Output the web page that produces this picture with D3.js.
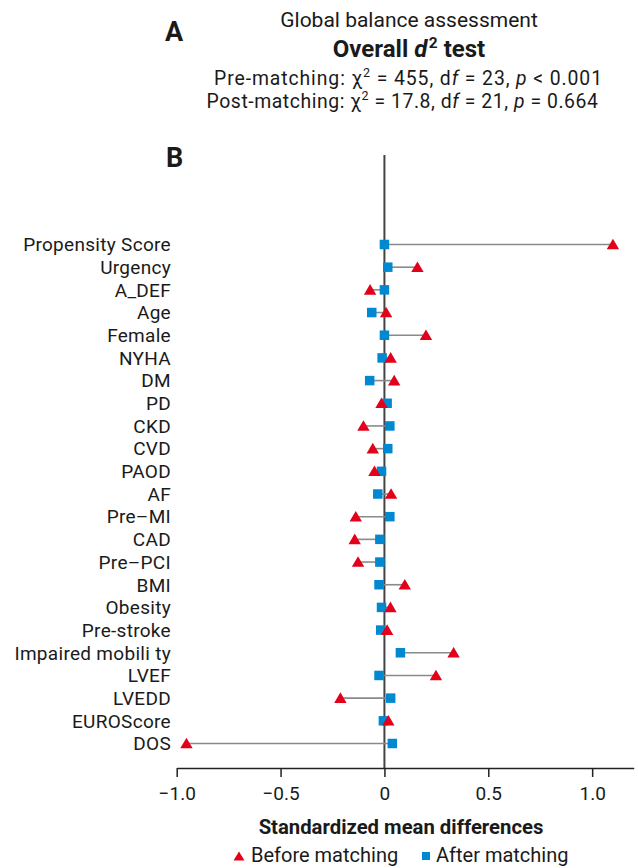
<!DOCTYPE html>
<html><head><meta charset="utf-8">
<script src="https://cdn.jsdelivr.net/npm/d3@7"></script>
<style>
body{margin:0;background:#fff}
svg{display:block}
text{font-family:Roboto,sans-serif;fill:#1a1a1a}
</style>
</head><body>
<svg id="chart" width="638" height="868"></svg>
<script>
const categories = ["Propensity Score","Urgency","A_DEF","Age","Female","NYHA","DM","PD","CKD","CVD","PAOD","AF","Pre\u2013MI","CAD","Pre\u2013PCI","BMI","Obesity","Pre-stroke","Impaired mobili ty","LVEF","LVEDD","EUROScore","DOS"];
const beforeMatching = [1.10,0.159,-0.069,0.008,0.20,0.03,0.047,-0.014,-0.101,-0.056,-0.048,0.032,-0.138,-0.143,-0.127,0.098,0.029,0.013,0.333,0.248,-0.212,0.019,-0.953];
const afterMatching  = [0.0,0.016,0.0,-0.061,0.0,-0.011,-0.071,0.013,0.026,0.016,-0.014,-0.032,0.026,-0.022,-0.022,-0.026,-0.014,-0.018,0.077,-0.026,0.030,-0.005,0.038];
const xTicks = [-1,-0.5,0,0.5,1];
const xTickLabels = ["\u22121.0","\u22120.5","0","0.5","1.0"];
const xDomain = [-1,1.2];
const legendLabels = ["Before matching","After matching"];

const RED = "#e3001b", BLUE = "#0088d1";
const svg = d3.select("#chart");

const x = d3.scaleLinear().domain(xDomain).range([176.7,633.7]);
const y = d3.scalePoint().domain(categories).range([244.5,743.5]);
const axisY = 768;

const rows = categories.map((c,i)=>({c, b:beforeMatching[i], a:afterMatching[i]}));

// header
svg.append("text").attr("x",165).attr("y",41).attr("font-size",27).attr("font-weight",700).text("A");
svg.append("text").attr("x",409).attr("y",27).attr("text-anchor","middle").attr("font-size",21).text("Global balance assessment");
const t2 = svg.append("text").attr("x",409).attr("y",57).attr("text-anchor","middle").attr("font-size",24).attr("font-weight",700);
t2.append("tspan").text("Overall ");
t2.append("tspan").attr("font-style","italic").text("d");
t2.append("tspan").attr("font-size",15.5).attr("dx",1.5).attr("dy",-9).text("2");
t2.append("tspan").attr("dy",9).text(" test");

function statLine(cx, yy, ls, prefix, chi, df, rel, p){
  const t = svg.append("text").attr("x",cx).attr("y",yy).attr("text-anchor","middle").attr("font-size",19.4)
    .attr("letter-spacing",ls);
  t.append("tspan").text(prefix+" \u03c7");
  t.append("tspan").attr("font-size",12.5).attr("dy",-8).text("2");
  t.append("tspan").attr("dy",8).text(" = "+chi+", d");
  t.append("tspan").attr("font-style","italic").text("f");
  t.append("tspan").text(" = "+df+", ");
  t.append("tspan").attr("font-style","italic").text("p");
  t.append("tspan").text(" "+rel+" "+p);
}
statLine(408.5, 85, 0.9, "Pre-matching:","455","23","<","0.001");
statLine(402.5, 108, 0.55, "Post-matching:","17.8","21","=","0.664");

svg.append("text").attr("x",166).attr("y",167).attr("font-size",27).attr("font-weight",700).text("B");

// row labels
svg.append("g").selectAll("text").data(rows).join("text")
  .attr("x",171).attr("y",d=>y(d.c)+6.8).attr("text-anchor","end").attr("font-size",19)
  .attr("letter-spacing",0.3)
  .text(d=>d.c);

// zero line
svg.append("line").attr("x1",x(0)).attr("x2",x(0)).attr("y1",155).attr("y2",axisY)
  .attr("stroke","#444").attr("stroke-width",2);

// connectors
svg.append("g").selectAll("line").data(rows).join("line")
  .attr("x1",d=>x(d.b)).attr("x2",d=>x(d.a)).attr("y1",d=>y(d.c)).attr("y2",d=>y(d.c))
  .attr("stroke","#8a8a8a").attr("stroke-width",1.6);

// after squares
const sq = 9.5;
svg.append("g").selectAll("rect").data(rows).join("rect")
  .attr("x",d=>x(d.a)-sq/2).attr("y",d=>y(d.c)-sq/2).attr("width",sq).attr("height",sq)
  .attr("fill",BLUE);

// before triangles
const tri = "M0,-5.8L6.2,4.8L-6.2,4.8Z";
svg.append("g").selectAll("path").data(rows).join("path")
  .attr("transform",d=>`translate(${x(d.b)},${y(d.c)})`).attr("d",tri).attr("fill",RED);

// x axis
const axis = d3.axisBottom(x).tickValues(xTicks).tickSize(9).tickSizeOuter(0).tickPadding(10)
  .tickFormat((d,i)=>xTickLabels[i]);
const gx = svg.append("g").attr("transform",`translate(0,${axisY})`).call(axis);
gx.select(".domain").attr("stroke","#222").attr("stroke-width",1.5);
gx.selectAll(".tick line").attr("stroke","#222").attr("stroke-width",1.5);
gx.selectAll(".tick text").attr("font-size",19).attr("fill","#1a1a1a").attr("font-family","Roboto, sans-serif");

svg.append("text").attr("x",401).attr("y",834).attr("text-anchor","middle").attr("font-size",20.3).attr("font-weight",700)
  .text("Standardized mean differences");

// legend
const ly = 862;
svg.append("path").attr("transform",`translate(239,${ly-5.5})`).attr("d","M0,-5L5.5,4L-5.5,4Z").attr("fill",RED);
svg.append("text").attr("x",251).attr("y",ly).attr("font-size",20).text(legendLabels[0]);
svg.append("rect").attr("x",422).attr("y",ly-10).attr("width",8).attr("height",8).attr("fill",BLUE);
svg.append("text").attr("x",436).attr("y",ly).attr("font-size",20).text(legendLabels[1]);
</script>
</body></html>
